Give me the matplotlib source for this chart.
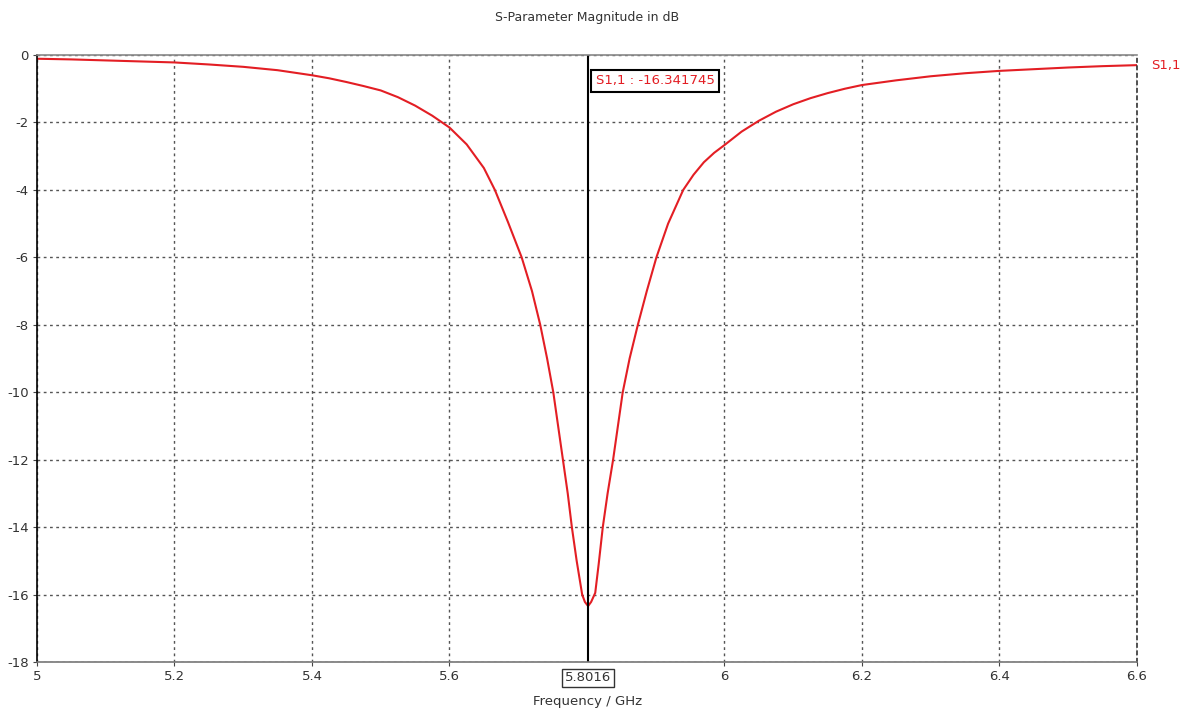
import numpy as np
import matplotlib.pyplot as plt

# S11 magnitude
freq_ghz = [5.0, 5.05, 5.1, 5.15, 5.2, 5.25, 5.3, 5.35, 5.4, 5.425, 5.45,
            5.475, 5.5, 5.525, 5.55, 5.575, 5.6, 5.625, 5.65, 5.666, 5.685,
            5.705, 5.72, 5.732, 5.742, 5.751, 5.758, 5.765, 5.772, 5.778,
            5.785, 5.793, 5.797, 5.8016, 5.806, 5.812, 5.817, 5.823, 5.83,
            5.838, 5.845, 5.852, 5.862, 5.874, 5.887, 5.901, 5.918, 5.94,
            5.955, 5.97, 5.985, 6.0, 6.025, 6.05, 6.075, 6.1, 6.125, 6.15,
            6.175, 6.2, 6.25, 6.3, 6.35, 6.4, 6.45, 6.5, 6.55, 6.6]
s11_db = [-0.11, -0.13, -0.16, -0.19, -0.22, -0.28, -0.35, -0.45, -0.60, -0.69,
          -0.80, -0.92, -1.05, -1.25, -1.50, -1.80, -2.15, -2.65, -3.35, -4.0,
          -4.95, -6.0, -7.0, -8.0, -9.0, -10.0, -11.0, -12.0, -13.0, -14.0,
          -15.0, -16.0, -16.22, -16.34, -16.22, -15.95, -15.1, -14.0, -13.0,
          -12.0, -11.0, -10.0, -9.0, -8.0, -7.0, -6.0, -5.0, -4.0,
          -3.55, -3.18, -2.9, -2.67, -2.27, -1.95, -1.68, -1.46, -1.28, -1.13,
          -1.0, -0.89, -0.75, -0.63, -0.54, -0.47, -0.42, -0.37, -0.33, -0.30]

marker_f = 5.8016
marker_val = -16.341745
xticks = [5, 5.2, 5.4, 5.6, 6, 6.2, 6.4, 6.6]
yticks = [0, -2, -4, -6, -8, -10, -12, -14, -16, -18]

red = '#e31e24'
grey = '#444444'

fig = plt.figure(figsize=(11.82, 7.10), dpi=100)
ax = fig.add_axes([0.0313, 0.0676, 0.9306, 0.8549])

ax.plot(freq_ghz, s11_db, color=red, lw=1.5)
ax.axvline(marker_f, color='black', lw=1.5)

ax.set_xlim(5, 6.6)
ax.set_ylim(-18, 0)
ax.set_xticks(xticks)
ax.set_xticklabels(['5', '5.2', '5.4', '5.6', '6', '6.2', '6.4', '6.6'])
ax.set_yticks(yticks)
ax.set_yticklabels([str(t) for t in yticks])
ax.tick_params(length=3, color=grey, labelcolor='#333333', labelsize=9.5, pad=3)

ax.grid(True, color='#555555', linestyle=(0, (2, 2.5)), lw=1.0)
ax.spines['left'].set_color('black')
ax.spines['left'].set_linewidth(1.2)
ax.spines['bottom'].set_color('#777777')
ax.spines['bottom'].set_linewidth(1.2)
ax.spines['top'].set_color('#888888')
ax.spines['top'].set_linewidth(1.2)
# right edge looks like a grid line in the original
ax.spines['right'].set_color('#333333')
ax.spines['right'].set_linestyle((0, (2, 2.5)))
ax.spines['right'].set_linewidth(1.2)

# marker readout
ax.text(5.8128, -0.77, f'S1,1 : {marker_val:.6f}', color=red, fontsize=9.5,
        va='center', ha='left',
        bbox=dict(boxstyle='square,pad=0.35', fc='white', ec='black', lw=1.5))
ax.text(marker_f, -0.026, f'{marker_f}', transform=ax.get_xaxis_transform(),
        ha='center', va='center', fontsize=9.5, color='#333333',
        bbox=dict(boxstyle='square,pad=0.2', fc='white', ec='#333333', lw=1.0))

# trace label on the right
ax.text(6.62, s11_db[-1], 'S1,1', color=red, fontsize=9.5, va='center', ha='left')

fig.text(0.497, 0.976, 'S-Parameter Magnitude in dB', ha='center', va='center',
         fontsize=9, color='#333333')
fig.text(0.497, 0.012, 'Frequency / GHz', ha='center', va='center',
         fontsize=9.5, color='#333333')

fig.savefig('out.png', dpi=100, facecolor='white')
